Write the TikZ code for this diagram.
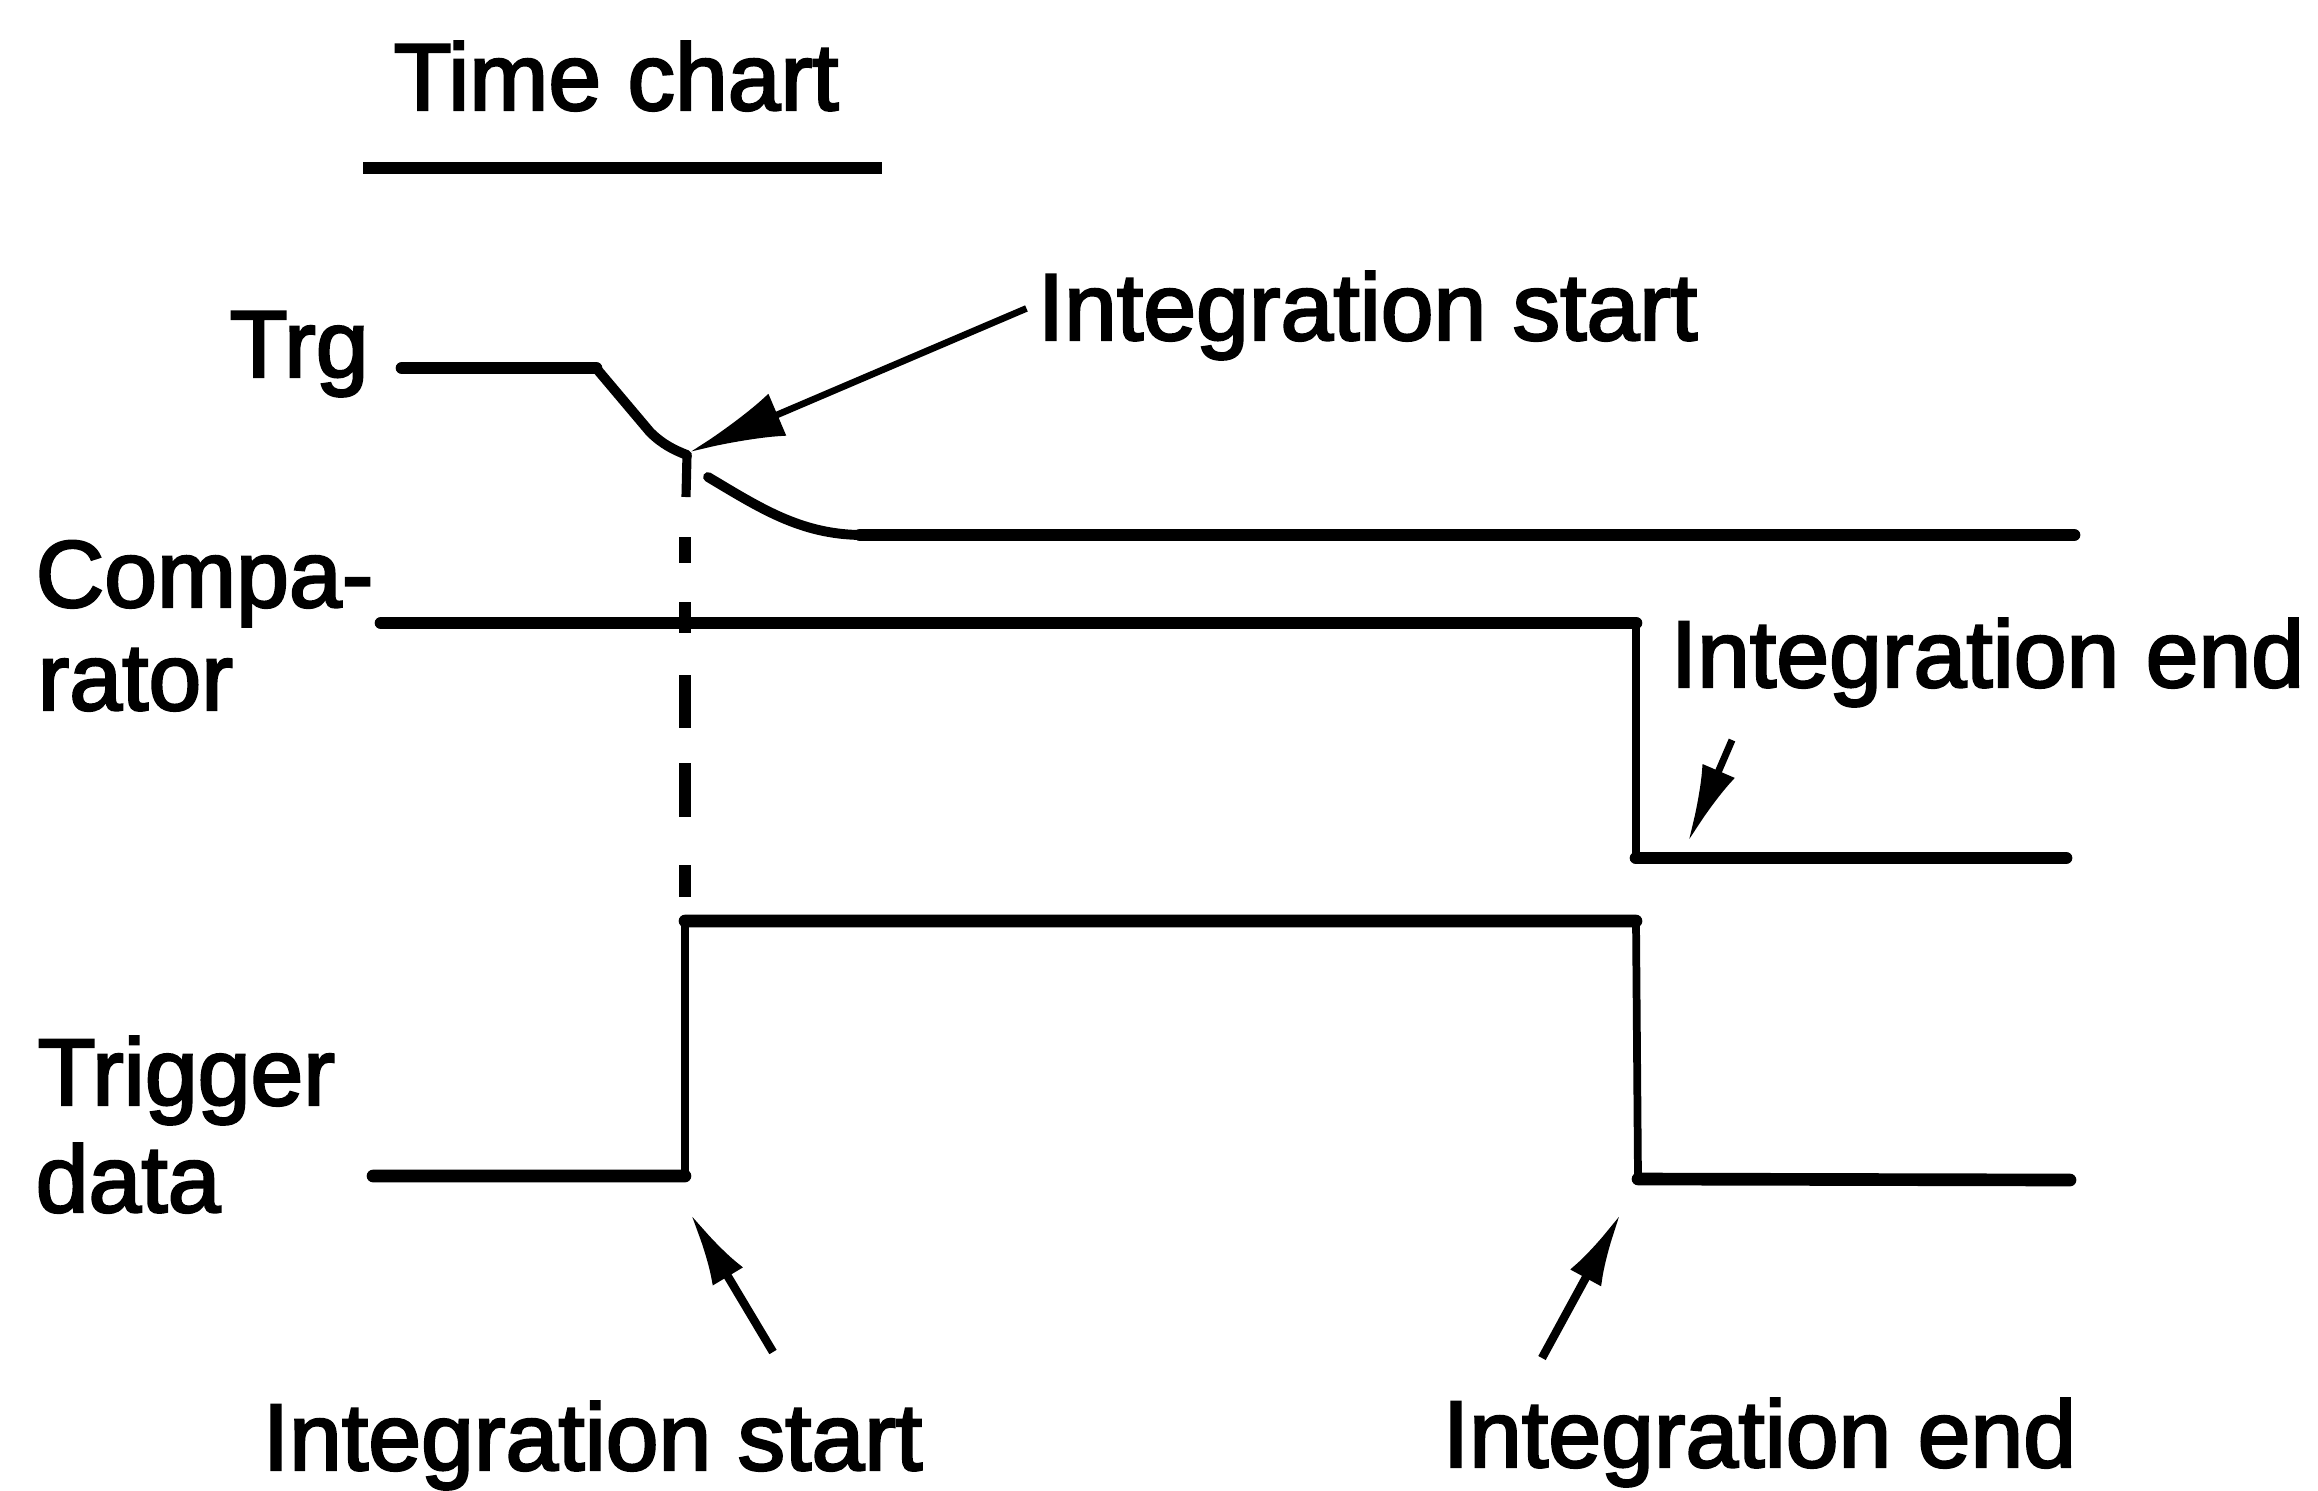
\documentclass[tikz,border=0pt]{standalone}
\usepackage{fontspec}
\newfontfamily\labfont{Liberation Sans}[FakeBold=2.5]
\usetikzlibrary{arrows.meta}
\begin{document}
\begin{tikzpicture}[x=0.01cm,y=-0.01cm,
  lbl/.style={font=\labfont\fontsize{27}{27}\selectfont, inner sep=0pt, anchor=base west},
  hwave/.style={line width=3.6pt, line cap=round, line join=round},
  vwave/.style={line width=2.2pt, line join=miter},
  slopew/.style={line width=2.8pt, line cap=round, line join=round},
  dashseg/.style={line width=3.2pt},
  bigarrow/.style={line width=1.9pt, -{Latex[length=27pt,width=13pt]}},
  midarrow/.style={line width=2.4pt, -{Latex[length=21pt,width=10pt]}},
  smallarrow/.style={line width=2pt, -{Latex[length=22pt,width=10pt]}}
]
\useasboundingbox (0,0) rectangle (2318,1490);

% labels
\node[lbl] (title) at (393,110) {Time chart};
\coordinate (ulA) at (363,168);
\coordinate (ulB) at (882,168);
\draw[line width=3.4pt] (ulA) -- (ulB);

\node[lbl] (trg) at (229,377) {Trg};
\node[lbl] (comp1) at (35,607) {Compa-};
\node[lbl] (comp2) at (37,710) {rator};
\node[lbl] (trig1) at (37,1105) {Trigger};
\node[lbl] (trig2) at (35,1212) {data};
\node[lbl] (istarttop) at (1037,340) {Integration start};
\node[lbl] (iendright) at (1670,687) {Integration end};
\node[lbl] (istartbot) at (262,1470) {Integration start};
\node[lbl] (iendbot) at (1442,1467) {Integration end};

% Trg waveform
\coordinate (t0) at (402,368);
\coordinate (t1) at (596,368);
\coordinate (t2) at (650,432);
\coordinate (cusp) at (687,455);
\coordinate (t3) at (708,477);
\coordinate (t4) at (860,535);
\coordinate (t5) at (2074,535);
\draw[hwave] (t0) -- (t1);
\draw[slopew] (t1) -- (t2) .. controls (662,444) and (674,450) .. (cusp);
\draw[slopew] (t3) .. controls (760,508) and (800,534) .. (t4);
\draw[hwave] (t4) -- (t5);

% Comparator waveform
\coordinate (c0) at (381,623);
\coordinate (c1) at (1636,623);
\coordinate (c2) at (1636,858);
\coordinate (c3) at (2066,858);
\draw[vwave] (c0) -- (c1) -- (c2) -- (c3);
\draw[hwave] (c0) -- (c1) (c2) -- (c3);

% Trigger data waveform
\coordinate (p0) at (373,1176);
\coordinate (p1) at (685,1176);
\coordinate (p2) at (685,921);
\coordinate (p3) at (1636,921);
\coordinate (p4) at (1638,1179);
\coordinate (p5) at (2070,1180);
\draw[vwave] (p0) -- (p1) -- (p2) -- (p3) -- (p4) -- (p5);
\draw[hwave] (p0) -- (p1) (p2) -- (p3) (p4) -- (p5);

% dashed vertical line
\draw[line width=2.6pt] (cusp) -- (686,497);
\foreach \a/\b in {537/563, 602/633, 675/728, 763/817, 865/897}
  \draw[dashseg] (685,\a) -- (685,\b);

% arrows
\coordinate (tipA) at (690,452);
\draw[bigarrow] ([xshift=-3pt,yshift=2pt]istarttop.west) -- (tipA);

\coordinate (tailB) at (1732,740);
\coordinate (tipB) at (1688,842);
\draw[smallarrow] (tailB) -- (tipB);

\coordinate (tailC) at (773,1352);
\coordinate (tipC) at (690,1213);
\draw[midarrow] (tailC) -- (tipC);

\coordinate (tailD) at (1542,1358);
\coordinate (tipD) at (1621,1213);
\draw[midarrow] (tailD) -- (tipD);
\end{tikzpicture}
\end{document}
